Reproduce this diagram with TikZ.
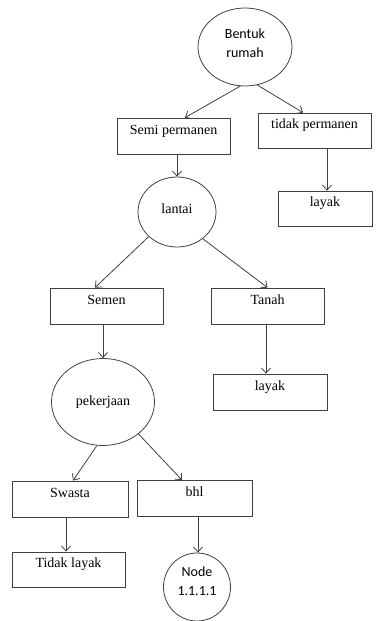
\documentclass[tikz,border=0pt]{standalone}
\usepackage{fontspec}
\setmainfont{Liberation Serif}
\newfontfamily\calibri{Carlito}
\usetikzlibrary{arrows.meta}
\usetikzlibrary{shapes}

\begin{document}
\begin{tikzpicture}[x=1pt,y=-1pt,>={Straight Barb[length=5pt,width=9pt]},
		garis/.style={draw=black!75,line width=0.8pt},
		kotak/.style={rectangle,garis,minimum width=113pt,minimum height=36pt,inner sep=2pt,
			text height=9pt,text depth=13pt,font=\fontsize{14}{16}\selectfont},
		bulat/.style={ellipse,garis,inner sep=0pt,font=\fontsize{14}{16}\selectfont}]
		\useasboundingbox (0,0) rectangle (382,621);
		
		\node[bulat,minimum width=94pt,minimum height=78pt,align=center,
			font=\calibri\fontsize{14}{19}\selectfont,text depth=8pt] (bentuk) at (245,47) {Bentuk\\rumah};
		\node[kotak]  (semi)   at (173.5,136)  {Semi permanen};
		\node[kotak,minimum height=35pt]  (tidak)  at (314.5,130.5) {tidak permanen};
		\node[kotak,minimum width=94pt,minimum height=35pt]  (layakA) at (325,208.5) {layak};
		\node[bulat,minimum width=78pt,minimum height=70pt,text depth=6pt] (lantai) at (177,212) {lantai};
		\node[kotak]  (semen)  at (106.5,306)  {Semen};
		\node[kotak]  (tanah)  at (267.5,306)  {Tanah};
		\node[kotak,minimum width=114pt]  (layakB) at (270,392)    {layak};
		\node[bulat,minimum width=103pt,minimum height=87pt] (kerja) at (103,402) {pekerjaan};
		\node[kotak,minimum width=116pt]  (swasta) at (70,499)     {Swasta};
		\node[kotak,minimum width=115pt]  (bhl)    at (194.5,498.5) {bhl};
		\node[kotak,minimum height=35pt]  (tlayak) at (68.5,569.5) {Tidak layak};
		\node[bulat,minimum width=67pt,minimum height=68pt,align=center,
			font=\calibri\fontsize{14}{19}\selectfont,text depth=12pt] (akhir) at (197,587) {Node\\1.1.1.1};
		
		\path[every edge/.style={garis,->}]
		(bentuk.263) edge ([xshift=11.5]semi.north)
		(bentuk.288) edge ([xshift=-11.5]tidak.north)
		([xshift=12.5]tidak.south) edge ([xshift=2]layakA.north)
		([xshift=3.5]semi.south) edge (lantai.north)
		(lantai.221) edge ([xshift=-11.5]semen.north)
		(lantai.314) edge (tanah.north)
		([xshift=-3.5]semen.south) edge (kerja.north)
		([xshift=-1.5]tanah.south) edge ([xshift=-4]layakB.north)
		(kerja.262) edge ([xshift=3]swasta.north)
		(kerja.318) edge ([xshift=-12.5]bhl.north)
		([xshift=-4]swasta.south) edge ([xshift=-2.5]tlayak.north)
		([xshift=3.5]bhl.south) edge ([xshift=1]akhir.north);
\end{tikzpicture}
\end{document}
